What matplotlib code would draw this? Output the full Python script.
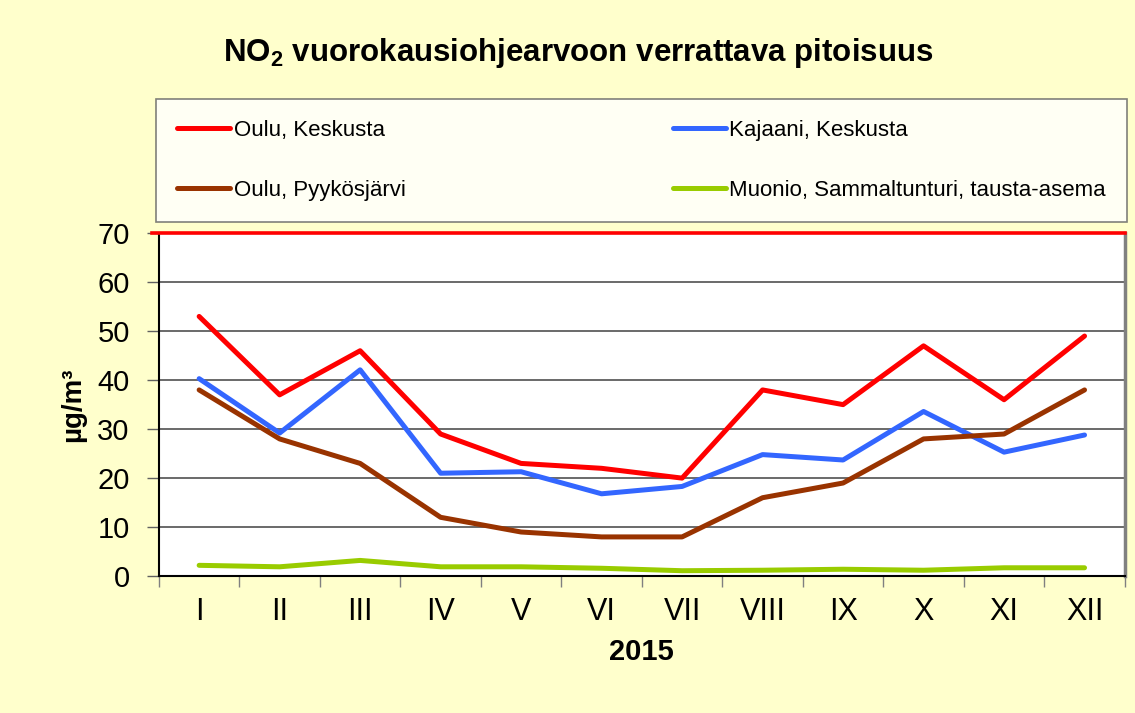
import numpy as np
import matplotlib.pyplot as plt
from matplotlib.lines import Line2D

plt.rcParams['font.family'] = ['Liberation Sans', 'DejaVu Sans']
plt.rcParams['mathtext.fontset'] = 'custom'
plt.rcParams['mathtext.rm'] = 'Liberation Sans'
plt.rcParams['mathtext.bf'] = 'Liberation Sans:bold'

# data (ug/m3, monthly)
months = ['I', 'II', 'III', 'IV', 'V', 'VI', 'VII', 'VIII', 'IX', 'X', 'XI', 'XII']
oulu_keskusta = [53, 37, 46, 29, 23, 22, 20, 38, 35, 47, 36, 49]
kajaani_keskusta = [40.3, 29.2, 42.1, 21.0, 21.3, 16.8, 18.3, 24.8, 23.7, 33.6, 25.3, 28.8]
oulu_pyykosjarvi = [38, 28, 23, 12, 9, 8, 8, 16, 19, 28, 29, 38]
muonio = [2.2, 1.9, 3.2, 1.9, 1.9, 1.6, 1.1, 1.2, 1.4, 1.2, 1.7, 1.7]
limit_value = 70

series = [
    ('Oulu, Keskusta', oulu_keskusta, '#FF0000'),
    ('Kajaani, Keskusta', kajaani_keskusta, '#3366FF'),
    ('Oulu, Pyykösjärvi', oulu_pyykosjarvi, '#993300'),
    ('Muonio, Sammaltunturi, tausta-asema', muonio, '#99CC00'),
]

fig = plt.figure(figsize=(11.35, 7.13), dpi=100, facecolor='#FFFFCC')
ax = fig.add_axes([0.140, 0.192, 0.851, 0.481])
ax.set_facecolor('white')

x = np.arange(len(months))
handles = {}
for name, vals, col in series:
    ax.plot(x, vals, color=col, lw=3.6, solid_capstyle='round', label=name, zorder=3)
    handles[name] = Line2D([], [], color=col, lw=3.6, solid_capstyle='round')

ax.axhline(limit_value, xmin=-0.007, xmax=1.0, color='#FF0000', lw=2.6, clip_on=False, zorder=5)

ax.set_xlim(-0.5, len(months) - 0.5)
ax.set_ylim(0, 70)
ax.set_yticks(range(0, 71, 10))
ax.yaxis.grid(True, color='#505050', lw=1.2)
ax.set_axisbelow(True)

# ticks between categories, labels at centres
ax.set_xticks(np.arange(-0.5, len(months), 1))
ax.set_xticklabels([])
ax.set_xticks(x, minor=True)
ax.set_xticklabels(months, minor=True, fontsize=22)
ax.tick_params(axis='x', which='major', length=8, width=1, color='#808080', direction='out')
ax.tick_params(axis='x', which='minor', length=0, pad=15)
ax.tick_params(axis='y', length=9, width=1, color='#606060', labelsize=21, pad=12)

for s in ['left', 'bottom']:
    ax.spines[s].set_color('black')
    ax.spines[s].set_linewidth(1.5)
ax.spines['right'].set_color('#808080')
ax.spines['right'].set_linewidth(2.5)
ax.spines['top'].set_color('#808080')

ax.set_xlabel('2015', fontsize=21, fontweight='bold', labelpad=8)
ax.set_ylabel('µg/m³', fontsize=20, fontweight='bold', labelpad=8)

fig.text(0.509, 0.925, r'NO$_\mathbf{2}$ vuorokausiohjearvoon verrattava pitoisuus',
         ha='center', va='center', fontsize=22.5, fontweight='bold')

# legend fills rows: red, blue / brown, green
order = ['Oulu, Keskusta', 'Oulu, Pyykösjärvi', 'Kajaani, Keskusta',
         'Muonio, Sammaltunturi, tausta-asema']
leg = fig.legend([handles[n] for n in order], order, ncol=2, loc='lower left',
                 bbox_to_anchor=(0.1374, 0.689, 0.8555, 0.171), mode='expand',
                 fontsize=16, handlelength=2.4, handletextpad=0.15,
                 labelspacing=1.75, borderpad=0.95, borderaxespad=0,
                 fancybox=False, shadow=False, frameon=True)
leg.get_frame().set_edgecolor('#606060')
leg.get_frame().set_linewidth(1.2)

fig.savefig('out.png', dpi=100, facecolor=fig.get_facecolor())
